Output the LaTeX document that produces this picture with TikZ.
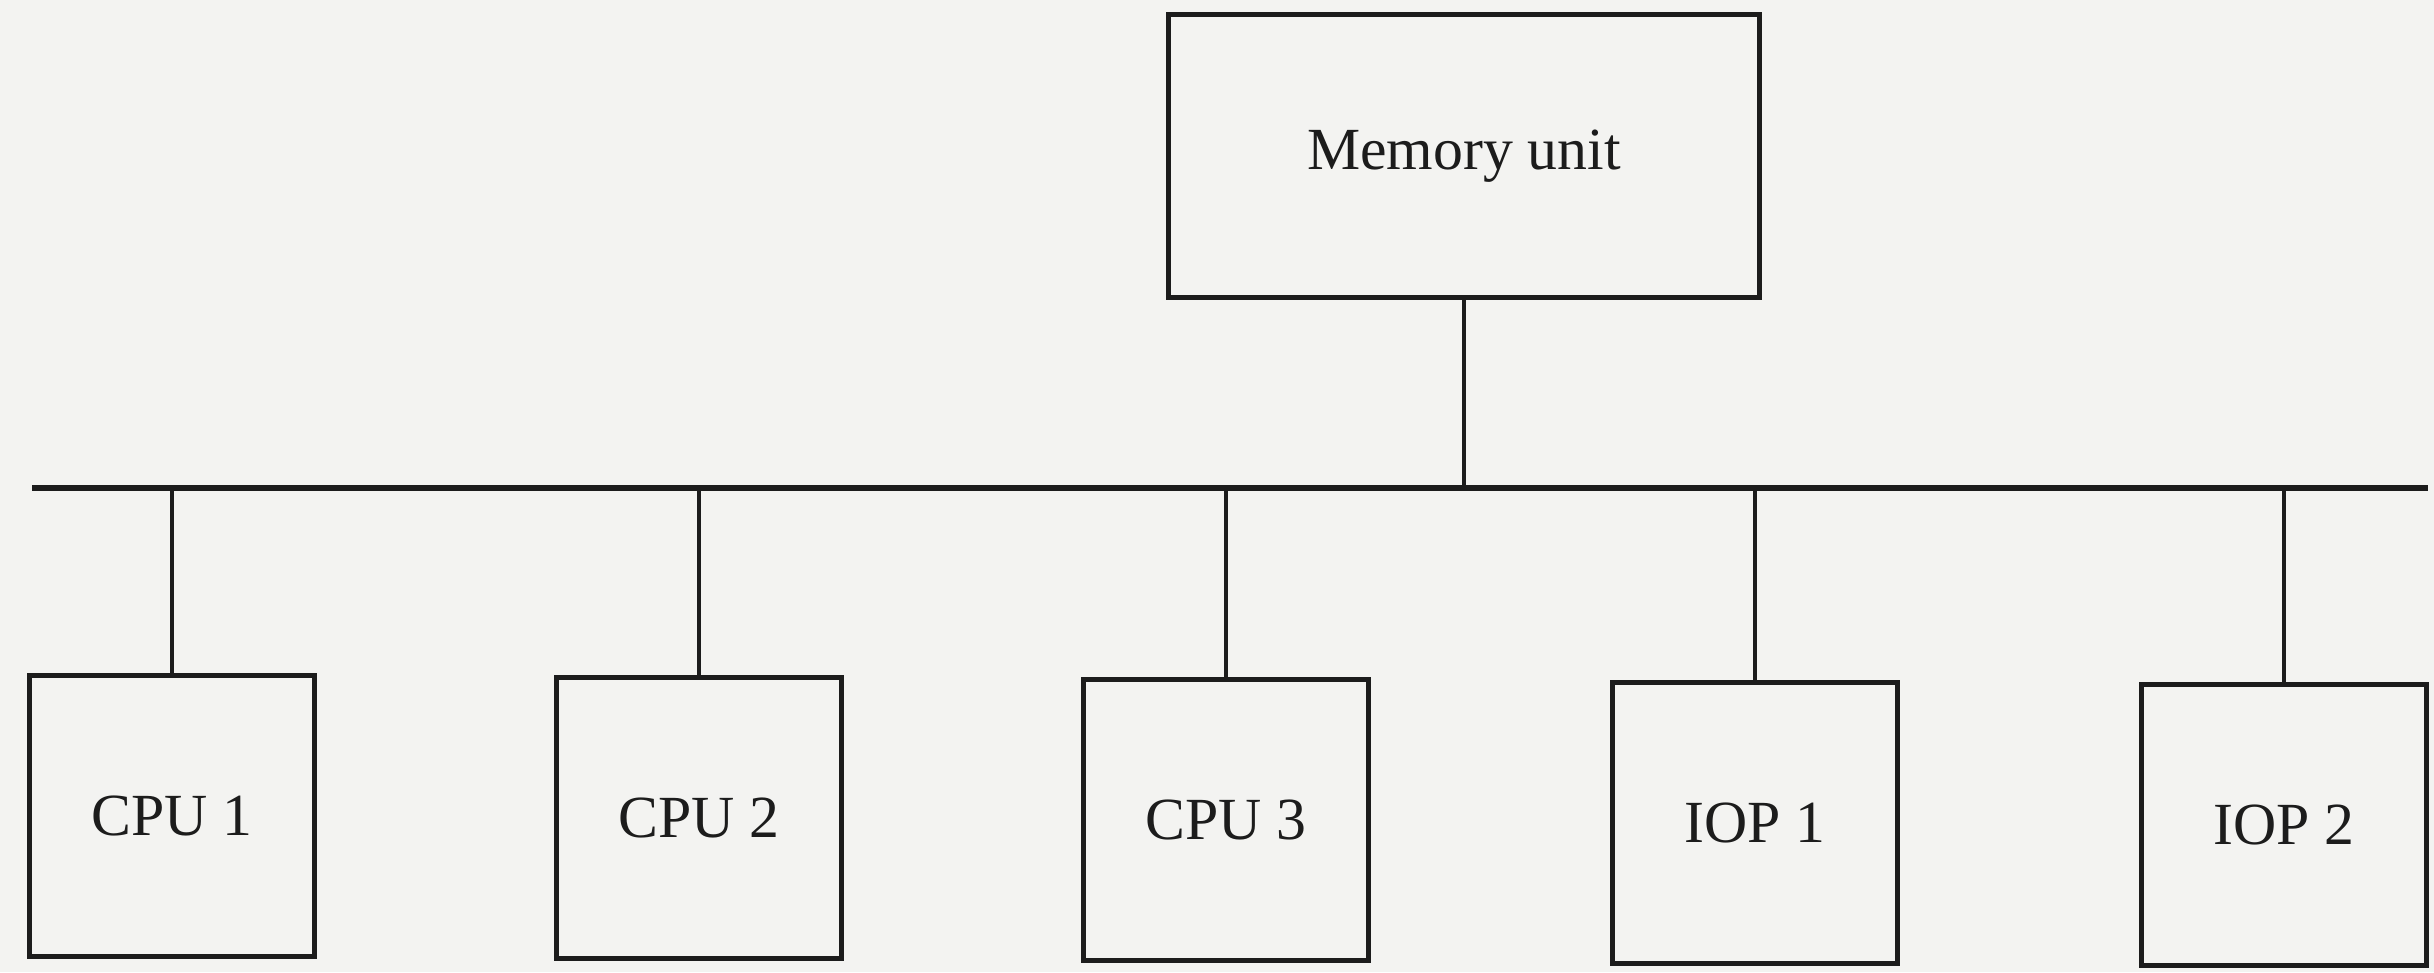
\documentclass[tikz,border=0pt]{standalone}
\usepackage{fontspec}
\setmainfont{Liberation Serif}
\usetikzlibrary{positioning}
\definecolor{paper}{RGB}{243,243,241}
\definecolor{ink}{RGB}{28,28,28}

\begin{document}
\begin{tikzpicture}[x=0.01cm,y=-0.01cm,
  unit/.style={draw=ink,text=ink,line width=1.4pt,minimum width=2.85cm,minimum height=2.81cm,inner sep=0pt,font=\fontsize{17}{20}\selectfont},
  link/.style={draw=ink,line width=1pt},
  bus/.style={draw=ink,line width=1.5pt}]
\fill[paper] (0,0) rectangle (2434,972);
\useasboundingbox (0,0) rectangle (2434,972);
\node[unit,minimum width=5.9cm,minimum height=2.82cm] (mem) at (1464,156) {Memory unit};
\foreach \nm/\xx/\yy/\lab in {cpu1/172/816/CPU 1,cpu2/699/818/CPU 2,cpu3/1226/820/CPU 3,iop1/1755/823/IOP 1,iop2/2284/825/IOP 2}
  {\node[unit] (\nm) at (\xx,\yy) {\lab};}
\coordinate (busL) at (32,488);
\coordinate (busR) at (2428,488);
\draw[bus] (busL) -- (busR);
\draw[link] (mem.south) -- (mem.south |- busL);
\foreach \nm in {cpu1,cpu2,cpu3,iop1,iop2}
  {\draw[link] (\nm.north) -- (\nm.north |- busL);}
\end{tikzpicture}
\end{document}
